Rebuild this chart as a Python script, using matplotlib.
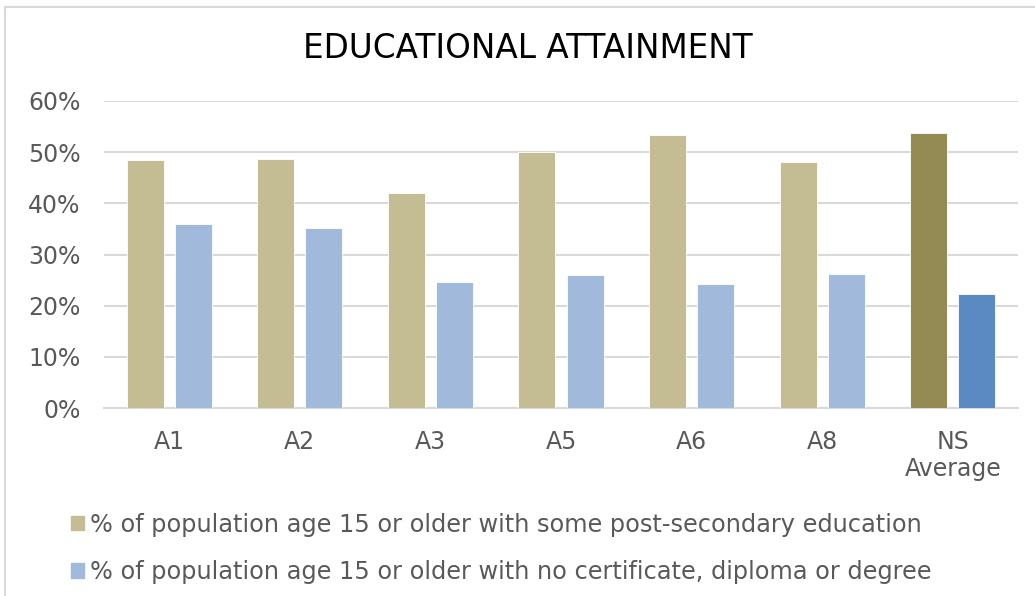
import matplotlib.pyplot as plt
import numpy as np
from matplotlib.patches import Patch
from matplotlib.lines import Line2D

categories = ['A1', 'A2', 'A3', 'A5', 'A6', 'A8', 'NS\nAverage']
post_secondary = [48.4, 48.6, 42.0, 50.0, 53.3, 48.0, 53.8]
no_certificate = [36.0, 35.1, 24.7, 25.9, 24.2, 26.2, 22.2]
series_labels = ['% of population age 15 or older with some post-secondary education',
                 '% of population age 15 or older with no certificate, diploma or degree']

tan = '#C4BC93'; blue = '#A1B9DA'
tan_dark = '#948A54'; blue_dark = '#5B89C1'
grey_txt = '#595959'

W, H = 1035, 596
fig = plt.figure(figsize=(W/100, H/100), dpi=100)
ax = fig.add_axes([104/W, (H-408)/H, 914/W, 307/H])

x = np.arange(len(categories))
c1 = [tan]*(len(x)-1) + [tan_dark]
c2 = [blue]*(len(x)-1) + [blue_dark]
ax.bar(x - 0.184, post_secondary, width=0.283, color=c1, edgecolor='white', linewidth=0.6, zorder=3)
ax.bar(x + 0.184, no_certificate, width=0.283, color=c2, edgecolor='white', linewidth=0.6, zorder=3)

ax.set_xlim(-0.5, len(x)-0.5)
ax.set_ylim(0, 60)
ax.set_yticks(np.arange(0, 61, 10))
ax.set_yticklabels([f'{v}%' for v in range(0, 61, 10)])
ax.set_xticks(x)
ax.set_xticklabels(categories, linespacing=1.15)
ax.tick_params(length=0, labelsize=17, labelcolor=grey_txt)
ax.tick_params(axis='y', pad=17)
ax.tick_params(axis='x', pad=16)
ax.yaxis.grid(True, color='#D9D9D9', linewidth=1.5, zorder=0)
for s in ['top', 'right', 'left']:
    ax.spines[s].set_visible(False)
ax.spines['bottom'].set_color('#D9D9D9')
ax.spines['bottom'].set_linewidth(1.5)
ax.set_axisbelow(True)

fig.text(528/W, 1 - 49/H, 'EDUCATIONAL ATTAINMENT', ha='center', va='center',
         fontsize=23.5, color='black')

handles = [Patch(color=tan), Patch(color=blue)]
fig.legend(handles, series_labels, loc='upper left', bbox_to_anchor=(49/W, 1 - 491/H),
           frameon=False, fontsize=17.3, labelcolor=grey_txt, handlelength=0.55,
           handleheight=0.55, handletextpad=0.25, labelspacing=0.98)

# chart frame (only top and left edges are visible in the crop)
fig.add_artist(Line2D([5/W, 5/W], [0, 1 - 7/H], color='#D9D9D9', linewidth=1.5))
fig.add_artist(Line2D([5/W, 1], [1 - 7/H, 1 - 7/H], color='#D9D9D9', linewidth=1.5))

fig.savefig('out.png', dpi=100)
